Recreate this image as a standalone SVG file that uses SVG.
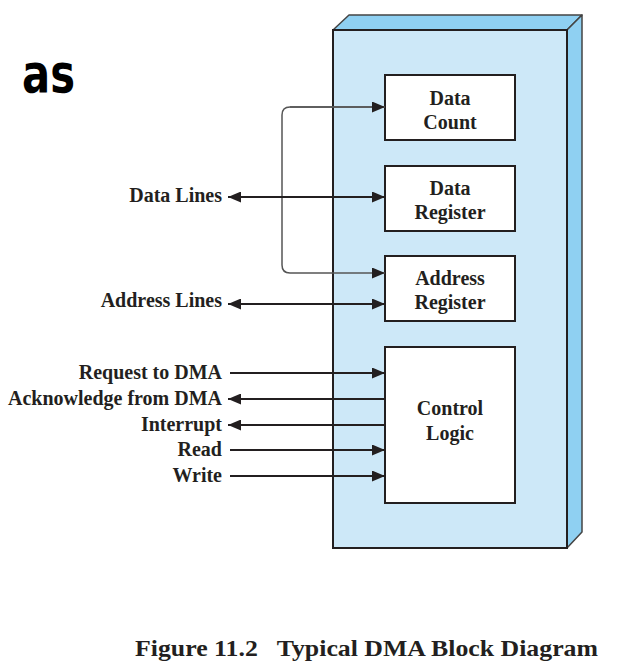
<svg xmlns="http://www.w3.org/2000/svg" width="642" height="672" viewBox="0 0 642 672">
<defs>
<marker id="ah" viewBox="0 0 13 11" refX="13" refY="5.5" markerWidth="13" markerHeight="11" markerUnits="userSpaceOnUse" orient="auto-start-reverse">
<path d="M0,0 L13,5.5 L0,11 Z" fill="#231f20"/>
</marker>
<style>
.lbl{font-family:"Liberation Serif","DejaVu Serif","Times New Roman",serif;font-weight:bold;font-size:20px;fill:#231f20}
.r{text-anchor:end}
.c{text-anchor:middle}
.box{fill:#fff;stroke:#231f20;stroke-width:2}
.ln{stroke:#231f20;stroke-width:2;fill:none}
.loop{stroke:#555;stroke-width:1.5;fill:none}
</style>
</defs>
<rect width="642" height="672" fill="#fff"/>
<text x="22" y="92" font-family="'DejaVu Sans',sans-serif" font-weight="bold" font-size="54" textLength="53" lengthAdjust="spacingAndGlyphs" fill="#000">as</text>
<g id="dma">
<polygon points="333,30 349,15 582,15 567,30" fill="#8fd0f2" stroke="#444" stroke-width="1.5" stroke-linejoin="round"/>
<polygon points="567,30 582,15 582,532 567,548" fill="#8fd0f2" stroke="#444" stroke-width="1.5" stroke-linejoin="round"/>
<rect x="333" y="30" width="234" height="518" fill="#cde8f8" stroke="#231f20" stroke-width="2"/>
</g>
<g id="data-count">
<rect class="box" x="385" y="75" width="130" height="65"/>
<text class="lbl c" x="450" y="105">Data</text>
<text class="lbl c" x="450" y="129">Count</text>
</g>
<g id="data-register">
<rect class="box" x="385" y="166" width="130" height="65"/>
<text class="lbl c" x="450" y="195">Data</text>
<text class="lbl c" x="450" y="219">Register</text>
</g>
<g id="address-register">
<rect class="box" x="385" y="256" width="130" height="65"/>
<text class="lbl c" x="450" y="285">Address</text>
<text class="lbl c" x="450" y="309">Register</text>
</g>
<g id="control-logic">
<rect class="box" x="385" y="347" width="130" height="156"/>
<text class="lbl c" x="450" y="415">Control</text>
<text class="lbl c" x="450" y="440">Logic</text>
</g>
<g id="labels">
<text class="lbl r" x="222" y="202">Data Lines</text>
<text class="lbl r" x="222" y="307">Address Lines</text>
<text class="lbl r" x="222" y="379">Request to DMA</text>
<text class="lbl r" x="222" y="405">Acknowledge from DMA</text>
<text class="lbl r" x="222" y="431">Interrupt</text>
<text class="lbl r" x="222" y="456">Read</text>
<text class="lbl r" x="222" y="482">Write</text>
</g>
<g id="connectors">
<path class="loop" d="M385,107 L290,107 Q282,107 282,115 L282,265 Q282,273 290,273 L385,273" marker-end="url(#ah)"/>
<path class="loop" d="M290,107 L385,107" marker-end="url(#ah)"/>
<line class="ln" x1="228" y1="197" x2="385" y2="197" marker-start="url(#ah)" marker-end="url(#ah)"/>
<line class="ln" x1="228" y1="304" x2="385" y2="304" marker-start="url(#ah)" marker-end="url(#ah)"/>
<line class="ln" x1="230" y1="373" x2="385" y2="373" marker-end="url(#ah)"/>
<line class="ln" x1="385" y1="399" x2="228" y2="399" marker-end="url(#ah)"/>
<line class="ln" x1="385" y1="425" x2="228" y2="425" marker-end="url(#ah)"/>
<line class="ln" x1="230" y1="450" x2="385" y2="450" marker-end="url(#ah)"/>
<line class="ln" x1="230" y1="476" x2="385" y2="476" marker-end="url(#ah)"/>
</g>
<text x="135" y="656" font-family="'Liberation Serif','DejaVu Serif','Times New Roman',serif" font-weight="bold" font-size="23" textLength="463" lengthAdjust="spacingAndGlyphs" fill="#231f20" xml:space="preserve">Figure 11.2   Typical DMA Block Diagram</text>
</svg>
